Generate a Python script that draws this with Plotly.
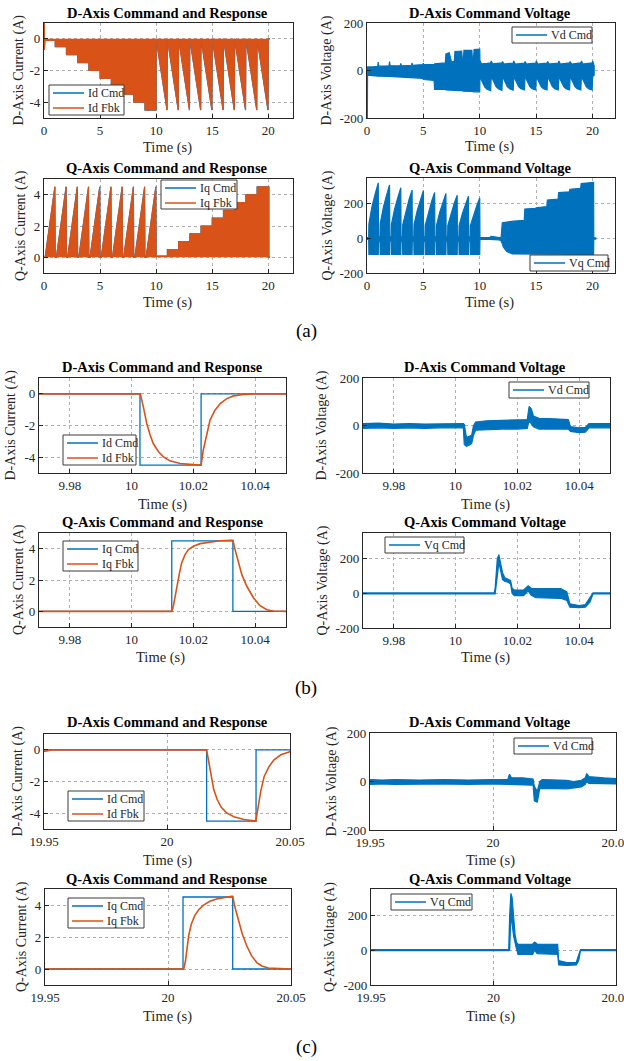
import plotly.graph_objects as go

BLUE = "#0072BD"
ORANGE = "#D95319"
FONT = "Liberation Serif, Times New Roman, Times, serif"
INK = "#262626"
W, H = 624, 1061

# ================= DATA =================
# (a) D-axis current envelope, 0-20 s
a_id_t = [0.0, 0.03, 0.04, 0.08, 0.12, 1.0, 1.0, 2.0, 2.0, 3.0, 3.0, 4.0, 4.0, 5.0, 5.0, 6.0, 6.0,
          7.0, 7.0, 8.0, 8.0, 9.0, 9.0, 10.0, 10.0, 10.97, 11.0, 11.97, 12.0, 12.97, 13.0, 13.97,
          14.0, 14.97, 15.0, 15.97, 16.0, 16.97, 17.0, 17.97, 18.0, 18.97, 19.0, 19.97, 20.0, 20.15]
a_id_v = [0.0, 1.0, -0.7, -0.1, -0.1, -0.1, -0.5, -0.5, -1.0, -1.0, -1.5, -1.5, -2.0, -2.0, -2.5,
          -2.5, -3.0, -3.0, -3.5, -3.5, -4.0, -4.0, -4.5, -4.5, 0.0, -4.5, 0.0, -4.5, 0.0, -4.5,
          0.0, -4.5, 0.0, -4.5, 0.0, -4.5, 0.0, -4.5, 0.0, -4.5, 0.0, -4.5, 0.0, -4.5, 0.0, 0.0]

# (a) D-axis voltage band
a_vd_t = [0.0, 0.03, 0.05, 0.5, 0.95, 1.0, 1.05, 1.95, 2.0, 2.05, 2.95, 3.0, 3.05, 3.95, 4.0,
          4.05, 4.95, 5.0, 5.05, 5.95, 6.0, 6.95, 7.0, 7.3, 7.4, 7.5, 7.75, 7.8, 8.4, 8.45, 8.55,
          8.6, 9.3, 9.35, 9.45, 9.5, 10.0,
          10.02, 10.15, 10.3, 10.45, 10.65, 10.97, 11.02, 11.15, 11.3, 11.45, 11.65, 11.97,
          12.02, 12.15, 12.3, 12.45, 12.65, 12.97, 13.02, 13.15, 13.3, 13.45, 13.65, 13.97,
          14.02, 14.15, 14.3, 14.45, 14.65, 14.97, 15.02, 15.15, 15.3, 15.45, 15.65, 15.97,
          16.02, 16.15, 16.3, 16.45, 16.65, 16.97, 17.02, 17.15, 17.3, 17.45, 17.65, 17.97,
          18.02, 18.15, 18.3, 18.45, 18.65, 18.97, 19.02, 19.15, 19.3, 19.45, 19.65, 19.97,
          20.02, 20.15]
a_vd_hi = [10, 15, 15, 15, 18, 35, 18, 20, 38, 20, 20, 30, 20, 22, 32, 22, 25, 30, 25, 25, 28,
           32, 70, 75, 50, 35, 40, 80, 82, 50, 50, 85, 85, 50, 55, 88, 90,
           42, 28, 28, 30, 30, 32, 40, 28, 29, 30, 30, 32, 38, 27, 28, 30, 30, 31,
           40, 27, 28, 29, 30, 31, 38, 27, 28, 29, 30, 31, 40, 27, 28, 29, 30, 31,
           38, 27, 28, 29, 30, 31, 40, 27, 28, 29, 30, 32, 38, 27, 28, 29, 30, 32,
           40, 27, 28, 29, 30, 32, 40, 20]
a_vd_lo = [-200, -200, -20, -22, -24, -25, -24, -25, -26, -26, -27, -28, -28, -30, -30, -30, -33,
           -38, -40, -42, -80, -80, -82, -82, -82, -82, -84, -84, -85, -86, -86, -87, -88, -88,
           -89, -90, -90,
           -25, -40, -57, -70, -79, -85, -25, -38, -55, -68, -77, -84, -25, -38, -55, -68, -77, -83,
           -25, -38, -55, -68, -77, -82, -25, -38, -55, -68, -77, -82, -25, -38, -55, -68, -77, -82,
           -25, -38, -55, -68, -77, -82, -25, -38, -55, -68, -77, -82, -25, -38, -55, -68, -77, -82,
           -25, -38, -55, -68, -77, -82, -25, -20]

# (a) Q-axis current envelope
a_iq_t = [0.0, 0.1, 0.97, 1.0, 1.1, 1.97, 2.0, 2.1, 2.97, 3.0, 3.1, 3.97, 4.0, 4.1, 4.97, 5.0,
          5.1, 5.97, 6.0, 6.1, 6.97, 7.0, 7.1, 7.97, 8.0, 8.1, 8.97, 9.0, 9.1, 9.97, 10.0, 10.05,
          11.0, 11.0, 12.0, 12.0, 13.0, 13.0, 14.0, 14.0, 15.0, 15.0, 16.0, 16.0, 17.0, 17.0,
          18.0, 18.0, 19.0, 19.0, 20.05, 20.05, 20.15]
a_iq_v = [0.0, 0.0, 4.5, 0.0, 0.0, 4.5, 0.0, 0.0, 4.5, 0.0, 0.0, 4.5, 0.0, 0.0, 4.5, 0.0, 0.0,
          4.5, 0.0, 0.0, 4.5, 0.0, 0.0, 4.5, 0.0, 0.0, 4.5, 0.0, 0.0, 4.5, 0.0, 0.08,
          0.08, 0.5, 0.5, 1.0, 1.0, 1.5, 1.5, 2.0, 2.0, 2.5, 2.5, 3.0, 3.0, 3.5, 3.5, 4.0, 4.0,
          4.5, 4.5, 0.0, 0.0]

# (a) Q-axis voltage band
a_vq_t = [0.0, 0.15,
          0.17, 0.45, 0.75, 1.0, 1.02, 1.15,
          1.17, 1.45, 1.75, 2.0, 2.02, 2.15,
          2.17, 2.45, 2.75, 3.0, 3.02, 3.15,
          3.17, 3.45, 3.75, 4.0, 4.02, 4.15,
          4.17, 4.45, 4.75, 5.0, 5.02, 5.15,
          5.17, 5.45, 5.75, 6.0, 6.02, 6.15,
          6.17, 6.45, 6.75, 7.0, 7.02, 7.15,
          7.17, 7.45, 7.75, 8.0, 8.02, 8.15,
          8.17, 8.45, 8.75, 9.0, 9.02, 9.15,
          9.17, 9.45, 9.75, 10.0, 10.02,
          10.9, 11.0, 11.3, 11.7, 11.9, 12.0, 12.1, 12.4, 12.9, 13.0, 13.95, 14.0, 14.95, 15.0,
          15.95, 16.0, 16.95, 17.0, 17.95, 18.0, 18.95, 19.0, 20.1, 20.12, 20.3]
a_vq_hi = [5, 5,
           85, 187, 264, 322, 10, 10,
           85, 180, 254, 310, 10, 10,
           82, 171, 241, 294, 10, 10,
           80, 162, 230, 280, 10, 10,
           80, 160, 226, 276, 10, 10,
           78, 154, 218, 266, 10, 10,
           78, 151, 213, 260, 10, 10,
           76, 145, 205, 250, 10, 10,
           75, 142, 200, 244, 10, 10,
           74, 136, 192, 234, 5,
           5, 12, 10, 5, 8, 90, 92, 95, 97, 100, 105, 170, 175, 178, 185, 222, 228, 265, 270,
           285, 290, 318, 325, 5, 3]
a_vq_lo = [-5, -5,
           -92, -92, -92, -92, -15, -15,
           -92, -92, -92, -92, -15, -15,
           -92, -92, -92, -92, -15, -15,
           -92, -92, -92, -92, -15, -15,
           -92, -92, -92, -92, -15, -15,
           -92, -92, -92, -92, -15, -15,
           -92, -92, -92, -92, -15, -15,
           -92, -92, -92, -92, -15, -15,
           -92, -92, -92, -92, -15, -15,
           -92, -92, -92, -92, -5,
           -5, -8, -6, -8, -15, -30, -50, -75, -90, -92, -92, -92, -92, -92, -92, -92, -92,
           -92, -92, -92, -92, -92, -92, -5, -3]

# (b) zoom near 10 s
b_id_cmd_t = [9.97, 10.0027, 10.0027, 10.0225, 10.0225, 10.05]
b_id_cmd_v = [0, 0, -4.5, -4.5, 0, 0]
b_id_fbk_t = [9.97, 10.0028, 10.0038, 10.0049, 10.0060, 10.0070, 10.0087, 10.0103, 10.0124,
              10.0157, 10.0200, 10.0225, 10.0232, 10.0243, 10.0254, 10.0270, 10.0287, 10.0308,
              10.0330, 10.0362, 10.0395, 10.05]
b_id_fbk_v = [0, 0, -0.82, -1.87, -2.6, -3.14, -3.66, -3.98, -4.23, -4.4, -4.47, -4.5, -3.56,
              -2.5, -1.66, -1.03, -0.61, -0.3, -0.13, -0.04, 0, 0]

b_vd_t = [9.970, 9.975, 9.980, 9.985, 9.990, 9.995, 10.0025, 10.0028, 10.0035, 10.0045, 10.0052,
          10.0058, 10.0065, 10.010, 10.015, 10.020, 10.0232, 10.0238, 10.0245, 10.0252, 10.027,
          10.032, 10.0365, 10.0372, 10.040, 10.042, 10.0432, 10.050]
b_vd_hi = [8, 10, 6, 8, 6, 8, 8, 5, -50, -45, -40, 0, 15, 20, 22, 22, 25, 80, 70, 40, 30, 28, 25,
           -5, -10, -8, 8, 8]
b_vd_lo = [-12, -10, -12, -10, -12, -10, -10, -80, -88, -82, -75, -40, -20, -18, -15, -15, -12,
           20, 10, -5, -15, -15, -15, -25, -30, -28, -10, -10]

b_iq_cmd_t = [9.97, 10.013, 10.013, 10.0328, 10.0328, 10.05]
b_iq_cmd_v = [0, 0, 4.5, 4.5, 0, 0]
b_iq_fbk_t = [9.97, 10.0130, 10.0135, 10.0141, 10.0146, 10.0154, 10.0162, 10.0173, 10.0184,
              10.0200, 10.0222, 10.0254, 10.0286, 10.0324, 10.0328, 10.0335, 10.0346, 10.0357,
              10.0373, 10.0395, 10.0416, 10.0438, 10.0459, 10.05]
b_iq_fbk_v = [0, 0, 0.32, 0.96, 1.7, 2.34, 3.09, 3.62, 3.94, 4.15, 4.32, 4.43, 4.51, 4.53, 4.53,
              3.94, 3.09, 2.34, 1.6, 0.85, 0.36, 0.1, 0.02, 0]

b_vq_t = [9.970, 10.0125, 10.0128, 10.0135, 10.0140, 10.0146, 10.0152, 10.0160, 10.0170, 10.0178,
          10.0183, 10.0190, 10.0220, 10.0235, 10.0245, 10.0260, 10.0340, 10.0360, 10.0370,
          10.0400, 10.0420, 10.0435, 10.0445, 10.0500]
b_vq_hi = [3, 3, 30, 200, 225, 180, 120, 90, 80, 75, 30, 20, 20, 45, 30, 28, 28, 10, -60, -70,
           -65, -20, 3, 3]
b_vq_lo = [-3, -3, -3, 100, 180, 140, 80, 70, 65, 55, 0, -12, -12, 15, -10, -25, -28, -40, -80,
           -82, -80, -50, -3, -3]

# (c) zoom near 20 s
c_id_cmd_t = [19.95, 20.0161, 20.0161, 20.0362, 20.0362, 20.05]
c_id_cmd_v = [0, 0, -4.5, -4.5, 0, 0]
c_id_fbk_t = [19.95, 19.9524, 19.9537, 20.0161, 20.0170, 20.0180, 20.0190, 20.0204, 20.0220,
              20.0242, 20.0272, 20.0313, 20.0361, 20.0370, 20.0381, 20.0395, 20.0415, 20.0435,
              20.0463, 20.0490, 20.0503]
c_id_fbk_v = [-0.1, -0.05, 0, 0, -0.84, -1.78, -2.51, -3.14, -3.62, -3.98, -4.23, -4.4, -4.5,
              -3.66, -2.62, -1.68, -1.05, -0.63, -0.31, -0.17, -0.1]

c_vd_t = [19.950, 19.955, 19.960, 19.970, 19.980, 19.990, 20.000, 20.006, 20.0067, 20.0075,
          20.012, 20.0163, 20.0168, 20.018, 20.019, 20.020, 20.030, 20.0327, 20.036, 20.0375,
          20.0381, 20.039, 20.045, 20.050]
c_vd_hi = [8, 6, 8, 6, 8, 6, 8, 8, 30, 15, 15, 10, -20, -40, 0, 8, 5, 0, 5, 15, 33, 20, 15, 12]
c_vd_lo = [-12, -10, -12, -12, -10, -12, -10, -12, -12, -15, -15, -15, -80, -85, -30, -28, -30,
           -28, -22, -12, 0, -8, -10, -10]

c_iq_cmd_t = [19.95, 20.0061, 20.0061, 20.0263, 20.0263, 20.05]
c_iq_cmd_v = [0, 0, 4.5, 4.5, 0, 0]
c_iq_fbk_t = [19.95, 20.0064, 20.0071, 20.0078, 20.0084, 20.0095, 20.0109, 20.0125, 20.0143,
              20.0170, 20.0204, 20.0259, 20.0263, 20.0272, 20.0286, 20.0302, 20.0320, 20.0340,
              20.0361, 20.0381, 20.0408, 20.0503]
c_iq_fbk_v = [0, 0, 0.5, 1.35, 2.08, 2.82, 3.35, 3.7, 3.98, 4.23, 4.4, 4.55, 4.55, 3.87, 3.03,
              2.19, 1.45, 0.82, 0.4, 0.19, 0.06, 0]

c_vq_t = [19.950, 20.0062, 20.0066, 20.0071, 20.0076, 20.0082, 20.0088, 20.0094, 20.0100,
          20.0160, 20.0168, 20.0178, 20.0262, 20.0266, 20.0300, 20.0338, 20.0348, 20.0355, 20.050]
c_vq_hi = [3, 3, 200, 325, 300, 180, 90, 45, 33, 35, 46, 35, 33, -60, -72, -70, -30, 3, 3]
c_vq_lo = [-3, -3, 0, 200, 150, 80, 40, 5, -25, -25, 0, -20, -25, -85, -88, -85, -60, -3, -3]

# tick labels
a_xticks = [0, 5, 10, 15, 20]
b_xticks = [9.98, 10, 10.02, 10.04]
b_xtext = ["9.98", "10", "10.02", "10.04"]
c_xticks = [19.95, 20, 20.05]
c_xtext = ["19.95", "20", "20.05"]
id_yticks = [-4, -2, 0]
id_ytext = ["-4", "-2", "0"]
iq_yticks = [0, 2, 4]
v_yticks = [-200, 0, 200]
v_ytext = ["-200", "0", "200"]

titles = ["D-Axis Command and Response", "D-Axis Command Voltage",
          "Q-Axis Command and Response", "Q-Axis Command Voltage"] * 3
ylabels = ["D-Axis Current (A)", "D-Axis Voltage (A)",
           "Q-Axis Current (A)", "Q-Axis Voltage (A)"] * 3
legend_names = [[("Id Cmd", BLUE), ("Id Fbk", ORANGE)], [("Vd Cmd", BLUE)],
                [("Iq Cmd", BLUE), ("Iq Fbk", ORANGE)], [("Vq Cmd", BLUE)]] * 3
panel_tags = ["(a)", "(b)", "(c)"]

# ================= LAYOUT CONFIG =================
boxes = {1: (44, 293, 23, 118), 2: (367, 615, 23, 118),
         3: (44, 293, 179, 273), 4: (367, 615, 178, 273),
         5: (39, 286, 378, 473), 6: (363, 610, 378, 473),
         7: (39, 286, 533, 627), 8: (363, 610, 533, 628),
         9: (44, 290, 734, 829), 10: (370, 616, 733, 830),
         11: (45, 291, 889, 985), 12: (371, 616, 889, 985)}
title_pos = {1: (167, 13), 2: (490, 13), 3: (167, 168), 4: (490, 168),
             5: (162, 367), 6: (485, 367), 7: (163, 522), 8: (485, 522),
             9: (167, 722), 10: (490, 722), 11: (167, 879), 12: (490, 879)}
xlab_pos = {1: (167, 148), 2: (489, 147), 3: (167, 302), 4: (489, 302),
            5: (162, 504), 6: (485, 504), 7: (160, 657), 8: (485, 657),
            9: (167, 860), 10: (490, 860), 11: (167, 1016), 12: (490, 1016)}
ylab_x = {1: 19, 2: 327, 3: 21, 4: 327, 5: 11, 6: 322, 7: 19, 8: 322,
          9: 17, 10: 331, 11: 22, 12: 330}
legend_box = {1: (49, 85, 124, 115), 2: (512, 27, 592, 43), 3: (161, 180, 237, 209),
              4: (530, 255, 608, 271), 5: (63, 435, 136, 465), 6: (509, 382, 589, 398),
              7: (63, 541, 138, 571), 8: (385, 537, 464, 553), 9: (68, 791, 144, 821),
              10: (514, 738, 592, 754), 11: (68, 898, 144, 928), 12: (391, 894, 472, 910)}
tag_pos = [(306, 331), (306, 688), (306, 1047)]

fig = go.Figure()


def ax(n):
    return ("x" if n == 1 else f"x{n}"), ("y" if n == 1 else f"y{n}")


def add_line(n, x, y, name, color, width):
    xa, ya = ax(n)
    fig.add_trace(go.Scatter(x=x, y=y, mode="lines", name=name, xaxis=xa, yaxis=ya,
                             line=dict(color=color, width=width), showlegend=False,
                             hoverinfo="skip"))


def add_fill_zero(n, x, y, color):
    xa, ya = ax(n)
    fig.add_trace(go.Scatter(x=x, y=y, mode="lines", fill="tozeroy", fillcolor=color,
                             xaxis=xa, yaxis=ya, line=dict(color=color, width=1),
                             showlegend=False, hoverinfo="skip"))


def add_band(n, t, hi, lo, name):
    xa, ya = ax(n)
    fig.add_trace(go.Scatter(x=list(t) + list(t)[::-1], y=list(hi) + list(lo)[::-1],
                             mode="lines", fill="toself", fillcolor=BLUE, name=name,
                             line=dict(color=BLUE, width=1.2), xaxis=xa, yaxis=ya,
                             showlegend=False, hoverinfo="skip"))


# (a)
add_line(1, a_id_t, a_id_v, "Id Cmd", BLUE, 1.2)
add_fill_zero(1, a_id_t, a_id_v, ORANGE)
add_band(2, a_vd_t, a_vd_hi, a_vd_lo, "Vd Cmd")
add_line(3, a_iq_t, a_iq_v, "Iq Cmd", BLUE, 1.2)
add_fill_zero(3, a_iq_t, a_iq_v, ORANGE)
add_band(4, a_vq_t, a_vq_hi, a_vq_lo, "Vq Cmd")
# (b)
add_line(5, b_id_cmd_t, b_id_cmd_v, "Id Cmd", BLUE, 1.3)
add_line(5, b_id_fbk_t, b_id_fbk_v, "Id Fbk", ORANGE, 1.6)
add_band(6, b_vd_t, b_vd_hi, b_vd_lo, "Vd Cmd")
add_line(7, b_iq_cmd_t, b_iq_cmd_v, "Iq Cmd", BLUE, 1.3)
add_line(7, b_iq_fbk_t, b_iq_fbk_v, "Iq Fbk", ORANGE, 1.6)
add_band(8, b_vq_t, b_vq_hi, b_vq_lo, "Vq Cmd")
# (c)
add_line(9, c_id_cmd_t, c_id_cmd_v, "Id Cmd", BLUE, 1.3)
add_line(9, c_id_fbk_t, c_id_fbk_v, "Id Fbk", ORANGE, 1.6)
add_band(10, c_vd_t, c_vd_hi, c_vd_lo, "Vd Cmd")
add_line(11, c_iq_cmd_t, c_iq_cmd_v, "Iq Cmd", BLUE, 1.3)
add_line(11, c_iq_fbk_t, c_iq_fbk_v, "Iq Fbk", ORANGE, 1.6)
add_band(12, c_vq_t, c_vq_hi, c_vq_lo, "Vq Cmd")

axis_style = dict(showline=True, mirror=True, linecolor=INK, linewidth=1.3,
                  ticks="inside", ticklen=4, tickwidth=1, tickcolor=INK,
                  showgrid=True, gridcolor="#b0b0b0", griddash="dot", gridwidth=1,
                  zeroline=False, automargin=False, fixedrange=True,
                  ticklabeloverflow="allow",
                  tickfont=dict(family=FONT, size=13, color=INK))

layout = {}
for n in range(1, 13):
    x0, x1, y0, y1 = boxes[n]
    col = (n - 1) % 4
    grp = (n - 1) // 4
    if grp == 0:
        xr = [0, 22.2] if n % 2 == 1 else [0, 22.0]
        xt, xtt = a_xticks, [str(v) for v in a_xticks]
    elif grp == 1:
        xr, xt, xtt = [9.97, 10.05], b_xticks, b_xtext
    else:
        xr, xt, xtt = [19.95, 20.05], c_xticks, c_xtext
    if col == 0:
        yr, yt, ytt = [-5, 1], id_yticks, id_ytext
    elif col == 2:
        yr, yt, ytt = [-1, 5], iq_yticks, [str(v) for v in iq_yticks]
    elif col == 1:
        yr, yt, ytt = [-200, 200], v_yticks, v_ytext
    else:
        yr, yt, ytt = [-200, 350], v_yticks, v_ytext
    xa, ya = ax(n)
    xkey = "xaxis" if n == 1 else f"xaxis{n}"
    ykey = "yaxis" if n == 1 else f"yaxis{n}"
    layout[xkey] = dict(axis_style, domain=[x0 / W, x1 / W], range=xr, anchor=ya,
                        tickvals=xt, ticktext=xtt)
    layout[ykey] = dict(axis_style, domain=[1 - y1 / H, 1 - y0 / H], range=yr, anchor=xa,
                        tickvals=yt, ticktext=ytt)


def px(x):
    return x / W


def py(y):
    return 1 - y / H


annotations = []
shapes = []
for n in range(1, 13):
    tx, ty = title_pos[n]
    annotations.append(dict(text=f"<b>{titles[n - 1]}</b>", x=px(tx), y=py(ty),
                            xref="paper", yref="paper", showarrow=False,
                            xanchor="center", yanchor="middle",
                            font=dict(family=FONT, size=14.5, color="black")))
    lx, ly = xlab_pos[n]
    annotations.append(dict(text="Time (s)", x=px(lx), y=py(ly), xref="paper",
                            yref="paper", showarrow=False, xanchor="center",
                            yanchor="middle", font=dict(family=FONT, size=14.5, color=INK)))
    x0, x1, y0, y1 = boxes[n]
    annotations.append(dict(text=ylabels[n - 1], x=px(ylab_x[n]), y=py((y0 + y1) / 2),
                            xref="paper", yref="paper", showarrow=False, textangle=-90,
                            xanchor="center", yanchor="middle",
                            font=dict(family=FONT, size=14, color=INK)))
    bx0, by0, bx1, by1 = legend_box[n]
    shapes.append(dict(type="rect", xref="paper", yref="paper", x0=px(bx0), x1=px(bx1),
                       y0=py(by1), y1=py(by0), fillcolor="white",
                       line=dict(color="#3a3a3a", width=1), layer="above"))
    for i, (name, color) in enumerate(legend_names[n - 1]):
        ry = by0 + 8 + 15 * i
        shapes.append(dict(type="line", xref="paper", yref="paper", x0=px(bx0 + 4),
                           x1=px(bx0 + 35), y0=py(ry), y1=py(ry),
                           line=dict(color=color, width=1.5), layer="above"))
        annotations.append(dict(text=name, x=px(bx0 + 37), y=py(ry), xref="paper",
                                yref="paper", showarrow=False, xanchor="left",
                                yanchor="middle",
                                font=dict(family=FONT, size=12, color=INK)))
for tag, (tx, ty) in zip(panel_tags, tag_pos):
    annotations.append(dict(text=tag, x=px(tx), y=py(ty), xref="paper", yref="paper",
                            showarrow=False, xanchor="center", yanchor="middle",
                            font=dict(family=FONT, size=19, color="black")))

fig.update_layout(width=W, height=H, margin=dict(l=0, r=0, t=0, b=0),
                  paper_bgcolor="white", plot_bgcolor="white", showlegend=False,
                  annotations=annotations, shapes=shapes, **layout)

fig.write_html("out.html", config={"displayModeBar": False},
               post_script="document.body.style.margin='0';"
                           "document.body.style.overflow='hidden';")
